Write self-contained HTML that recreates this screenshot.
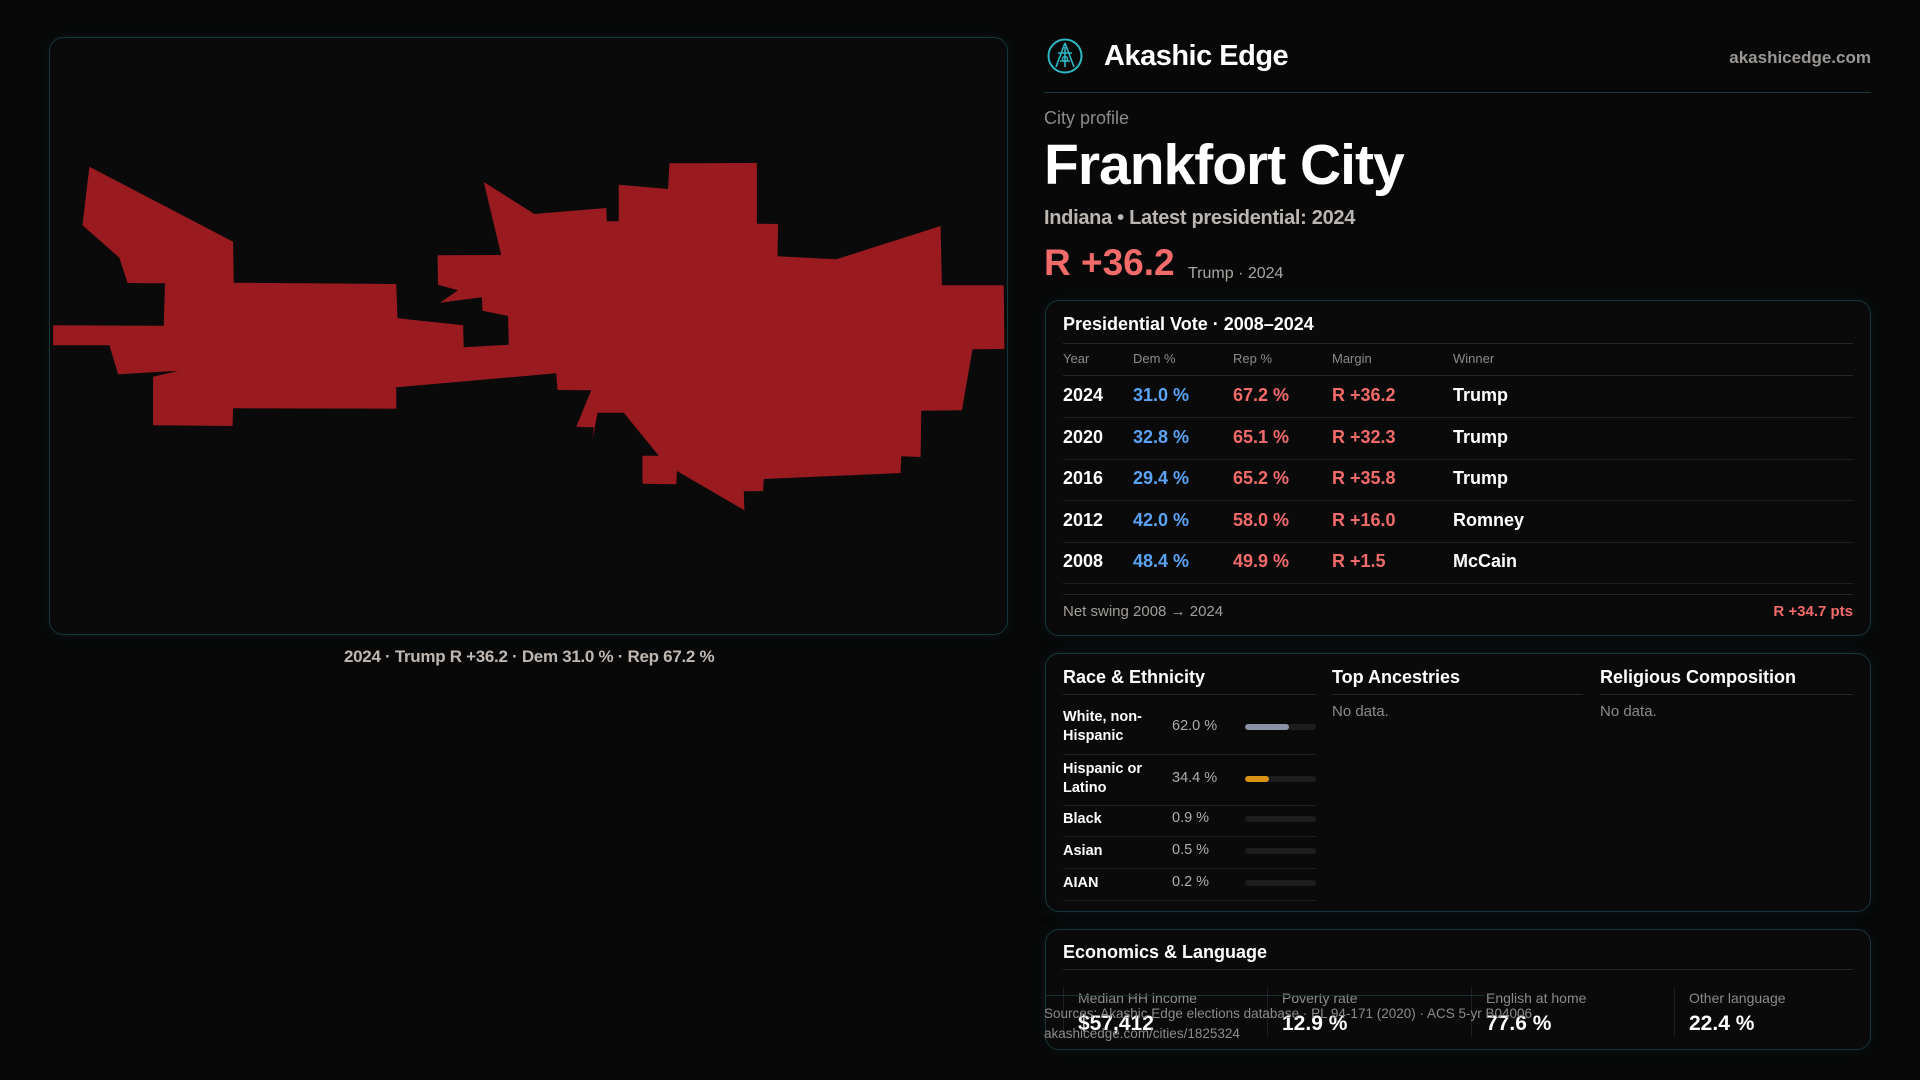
<!DOCTYPE html>
<html><head><meta charset="utf-8"><style>
*{margin:0;padding:0;box-sizing:border-box}
body{width:1920px;height:1080px;background:#080808;font-family:"Liberation Sans",sans-serif;color:#fff;position:relative;overflow:hidden}
.abs{position:absolute;white-space:nowrap}
.panel{position:absolute;border:1px solid #15363b;border-radius:14px;background:#0a0a0b;box-shadow:0 0 18px rgba(20,70,80,0.18)}
.hr{position:absolute;height:1px;background:#232527}
.g{color:#8d8a87}
</style></head><body>
<div class="panel" style="left:49px;top:37px;width:959px;height:598px"></div>
<svg class="abs" style="left:0;top:0" width="1920" height="1080">
<polygon fill="#991b1f" points="89.4,166.7 233.1,241.7 233.75,282.7 396.25,284 397.5,318.3 463.1,325.3 463.75,347.3 508.75,344.7 508.1,316 482.5,310.7 481.9,297.3 440,302.7 458.1,290.3 438.1,284.7 437.5,255.3 501.25,255 483.75,182 534.4,214 606.25,208 606.9,221.3 618.75,221.3 618.75,184.7 668.1,189 669.4,163.3 756.9,163 756.9,223.7 778.1,224 777.5,256.3 836.25,259.3 940.6,226 941.9,285.3 1003.75,285.3 1004.4,349 972.5,349.3 961.9,410.3 921.25,410.7 920.6,457 901.25,456.3 900.6,473 763.75,479 763.1,491 743.75,491.3 744.4,510.3 676.9,471 676.25,484.3 642.5,483.7 642.5,455.7 658.75,455.7 623.75,412.7 597.5,412.7 592.5,440 593.75,427.3 576.25,426.7 591.25,390.3 557.5,390 556.25,373.3 396.25,387.3 396.25,408.7 233.1,408.3 232.5,426 153.1,425.3 153.1,376.7 178.75,370.7 118.1,374.3 109.4,345.3 53.1,345.3 53.1,325.3 163.75,325.7 165,283.3 127.5,283 119.4,257.7 82.5,225.3"/>
</svg>
<div class="abs" style="left:344px;top:647px;width:368px;text-align:center;font-size:17px;font-weight:bold;color:#bfb8b2;letter-spacing:-0.3px">2024 · Trump R +36.2 · Dem 31.0 % · Rep 67.2 %</div>

<svg class="abs" style="left:1046px;top:37px" width="38" height="38" viewBox="0 0 38 38">
<circle cx="19" cy="19" r="16.5" fill="none" stroke="#2fb8c4" stroke-width="2"/>
<path d="M19 6 L10 30 M19 6 L28 30 M12 16 L26 16 M19 10 L19 30 M14 24 L24 24" stroke="#2fb8c4" stroke-width="1.6" fill="none"/>
<circle cx="19" cy="22" r="2.5" fill="none" stroke="#2fb8c4" stroke-width="1.4"/>
</svg>
<div class="abs" style="left:1104px;top:40px;font-size:29px;font-weight:bold;letter-spacing:-0.5px">Akashic Edge</div>
<div class="abs" style="right:49px;top:48px;font-size:17px;font-weight:bold;color:#9a9794">akashicedge.com</div>
<div class="hr" style="left:1044px;top:92px;width:827px;background:#1a3a3f"></div>
<div class="abs g" style="left:1044px;top:108px;font-size:18px">City profile</div>
<div class="abs" style="left:1044px;top:132px;font-size:57px;font-weight:bold;letter-spacing:-1px">Frankfort City</div>
<div class="abs" style="left:1044px;top:207px;font-size:20px;font-weight:bold;color:#bbb6b1;letter-spacing:-0.3px">Indiana • Latest presidential: 2024</div>
<div class="abs" style="left:1044px;top:242px;font-size:37px;font-weight:bold;color:#f26b6b">R +36.2</div>
<div class="abs g" style="left:1188px;top:265px;font-size:16px;color:#a9a5a1">Trump · 2024</div>

<div class="panel" style="left:1045px;top:300px;width:826px;height:336px"></div>
<div class="abs" style="left:1063px;top:314px;font-size:18px;font-weight:bold">Presidential Vote · 2008–2024</div>
<div class="hr" style="left:1063px;top:343px;width:790px"></div>
<div id="vote"></div>
<div class="hr" style="left:1063px;top:594px;width:790px"></div>
<div class="abs g" style="left:1063px;top:603px;font-size:15px;color:#a29e9a">Net swing 2008 → 2024</div>
<div class="abs" style="right:67px;top:603px;font-size:15px;font-weight:bold;color:#f26b6b">R +34.7 pts</div>

<div class="panel" style="left:1045px;top:653px;width:826px;height:259px"></div>
<div class="abs" style="left:1063px;top:667px;font-size:18px;font-weight:bold">Race &amp; Ethnicity</div>
<div class="abs" style="left:1332px;top:667px;font-size:18px;font-weight:bold">Top Ancestries</div>
<div class="abs" style="left:1600px;top:667px;font-size:18px;font-weight:bold">Religious Composition</div>
<div class="hr" style="left:1063px;top:694px;width:253px"></div>
<div class="hr" style="left:1332px;top:694px;width:251px"></div>
<div class="hr" style="left:1600px;top:694px;width:253px"></div>
<div class="abs g" style="left:1332px;top:703px;font-size:15px">No data.</div>
<div class="abs g" style="left:1600px;top:703px;font-size:15px">No data.</div>
<div id="race"></div>

<div class="panel" style="left:1045px;top:929px;width:826px;height:121px"></div>
<div class="abs" style="left:1063px;top:942px;font-size:18px;font-weight:bold">Economics &amp; Language</div>
<div class="hr" style="left:1063px;top:969px;width:790px"></div>
<div id="econ"></div>
<div class="hr" style="left:1045px;top:995px;width:440px;background:#163035"></div>
<div class="abs g" style="left:1044px;top:1006px;font-size:13.5px;color:#8f8b88">Sources: Akashic Edge elections database · PL 94-171 (2020) · ACS 5-yr B04006</div>
<div class="abs g" style="left:1044px;top:1026px;font-size:13.5px;color:#8f8b88">akashicedge.com/cities/1825324</div>

<script>
const years=["2024","2020","2016","2012","2008"];
const demPct=[31.0,32.8,29.4,42.0,48.4];
const repPct=[67.2,65.1,65.2,58.0,49.9];
const winners=["Trump","Trump","Trump","Romney","McCain"];
const raceLabels=["White, non-\nHispanic","Hispanic or\nLatino","Black","Asian","AIAN"];
const racePct=[62.0,34.4,0.9,0.5,0.2];
const raceColors=["#8a93a6","#d99413","#8a93a6","#8a93a6","#8a93a6"];
const econLabels=["Median HH income","Poverty rate","English at home","Other language"];
const econValues=["$57,412","12.9 %","77.6 %","22.4 %"];

function mk(parent,css,txt){const d=document.createElement('div');d.className='abs';d.style.cssText=css;if(txt!==undefined)d.textContent=txt;parent.appendChild(d);return d;}
const vote=document.getElementById('vote');
const cols=[1063,1133,1233,1332,1453];
const heads=["Year","Dem %","Rep %","Margin","Winner"];
heads.forEach((h,i)=>{const e=mk(vote,`left:${cols[i]}px;top:351px;font-size:13px;color:#8d8a87`,h);

});
const hr0=mk(vote,'left:1063px;top:375px;width:790px;height:1px;background:#232527');


const rowH=41.6;
years.forEach((y,i)=>{
  const top=385+i*rowH;
  const m=repPct[i]-demPct[i];
  const vals=[y,demPct[i].toFixed(1)+' %',repPct[i].toFixed(1)+' %',(m>=0?'R +':'D +')+Math.abs(m).toFixed(1),winners[i]];
  const colors=['#fff','#5aa3f5','#f26b6b','#f26b6b','#fff'];
  vals.forEach((v,j)=>{const e=mk(vote,`left:${cols[j]}px;top:${top}px;font-size:18px;font-weight:bold;color:${colors[j]}`,v);
  
  });
  const r=mk(vote,`left:1063px;top:${top+32}px;width:790px;height:1px;background:#1e2022`);
  
  
});
const race=document.getElementById('race');
const rTops=[726,777.5,818,850,882],rSeps=[754,804.5,836,868,900];
raceLabels.forEach((l,i)=>{
  const lines=l.split('\n');
  const lab=mk(race,`left:1063px;top:${rTops[i]-(lines.length>1?18:8)}px;font-size:14.5px;font-weight:bold;line-height:19px;white-space:pre`,l);
  
  
  const v=mk(race,`left:1172px;top:${rTops[i]-8}px;font-size:14.5px;color:#b0aca8`,racePct[i].toFixed(1)+' %');
  
  
  const tr=mk(race,`left:1245px;top:${rTops[i]-2}px;width:71px;height:6px;border-radius:3px;background:#1c1d1f;overflow:hidden`);
  
  
  const f=document.createElement('div');f.style.cssText=`height:100%;width:${racePct[i]<1?0:racePct[i]}%;background:${raceColors[i]};border-radius:3px`;tr.appendChild(f);
  
  
  const s=mk(race,`left:1063px;top:${rSeps[i]}px;width:253px;height:1px;background:#1e2022`);
  
  
});
const econ=document.getElementById('econ');
const ex=[1063,1267,1471,1674];
econLabels.forEach((l,i)=>{
  const d=mk(econ,`left:${ex[i]}px;top:987px;width:1px;height:50px;background:#1e2022`);
  
  
  const a=mk(econ,`left:${ex[i]+15}px;top:990px;font-size:14px;color:#8d8a87`,l);
  
  
  const b=mk(econ,`left:${ex[i]+15}px;top:1012px;font-size:21px;font-weight:bold`,econValues[i]);
  
  
});
</script>
</body></html>
